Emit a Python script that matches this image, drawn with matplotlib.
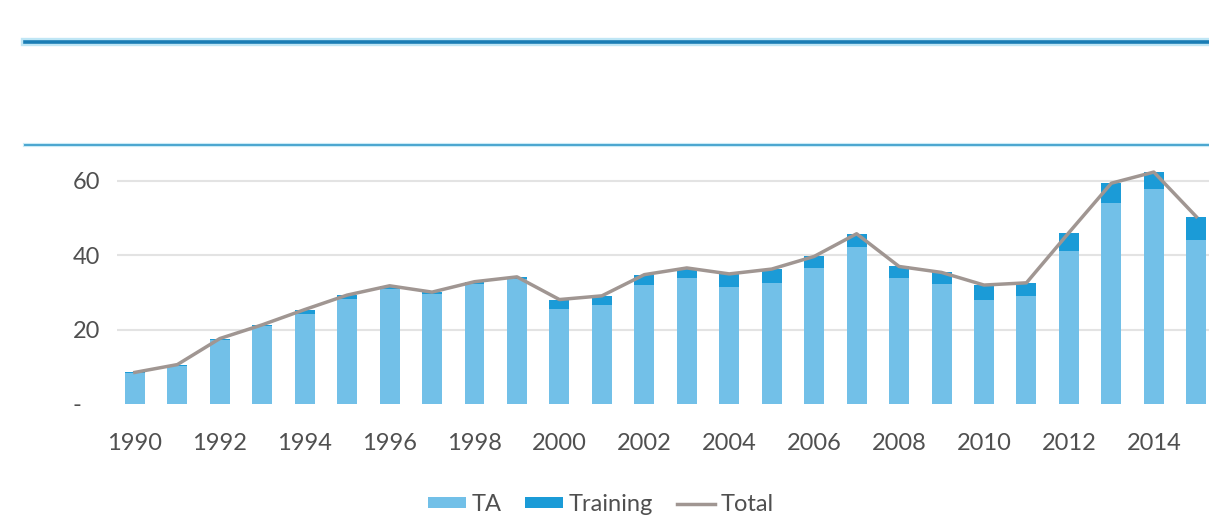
import numpy as np
import matplotlib
matplotlib.use("Agg")
from matplotlib import pyplot as plt
from matplotlib.lines import Line2D

years = list(range(1990, 2016))
ta = [8.3, 10.3, 17.3, 20.9, 24.2, 28.3, 31.0, 29.6, 32.4, 33.6,
      25.5, 26.5, 32.1, 33.9, 31.5, 32.6, 36.6, 42.3, 33.9, 32.3,
      28.0, 29.0, 41.2, 54.0, 57.9, 44.2]
training = [0.2, 0.3, 0.3, 0.4, 1.2, 1.0, 0.8, 0.5, 0.5, 0.6,
            2.6, 2.6, 2.7, 2.7, 3.5, 3.7, 3.1, 3.5, 3.1, 3.1,
            4.0, 3.6, 4.9, 5.4, 4.5, 6.2]
total = [a + b for a, b in zip(ta, training)]

yticks = [0, 20, 40, 60]
ytick_labels = ["-   ", "20", "40", "60"]
xtick_years = list(range(1990, 2015, 2))

plt.rcParams['font.family'] = ['Lato', 'DejaVu Sans']
text_color = '#505050'

fig = plt.figure(figsize=(12.09, 5.20), dpi=100)
ax = fig.add_axes([0.0968, 0.2231, 0.9032, 0.4646])

# decorative header rules
fig.add_artist(Line2D([0.0207, 1.0], [0.920, 0.920], color='#bfe6f5', lw=6.0))
fig.add_artist(Line2D([0.0207, 1.0], [0.920, 0.920], color='#1a7db5', lw=2.6))
fig.add_artist(Line2D([0.0207, 1.0], [0.721, 0.721], color='#c9ebf7', lw=3.0))
fig.add_artist(Line2D([0.0207, 1.0], [0.721, 0.721], color='#4aa6cf', lw=1.4))

b1 = ax.bar(years, ta, width=0.47, color='#72c0e8', label='TA', zorder=2)
b2 = ax.bar(years, training, width=0.47, bottom=ta, color='#1b9bd7',
            label='Training', zorder=2)
l1, = ax.plot(years, total, color='#a09692', lw=2.5, label='Total',
              solid_joinstyle='round', zorder=3)

ax.set_xlim(1989.58, 2015.30)
ax.set_ylim(0, 65)
ax.set_yticks(yticks)
ax.set_yticklabels(ytick_labels)
ax.set_xticks(xtick_years)
ax.set_xticklabels([str(y) for y in xtick_years])
ax.tick_params(axis='both', length=0, labelsize=17, colors=text_color)
ax.tick_params(axis='y', pad=12)
ax.tick_params(axis='x', pad=21)

ax.yaxis.grid(True, color='#e3e3e3', lw=1.5, zorder=0)
ax.set_axisbelow(True)
ax.get_ygridlines()[0].set_visible(False)
for s in ax.spines.values():
    s.set_visible(False)

fig.legend([b1, b2, l1], ['TA', 'Training', 'Total'], loc='center',
           bbox_to_anchor=(0.497, 0.03),
           ncol=3, frameon=False, fontsize=17, labelcolor=text_color,
           handlelength=1.6, handleheight=0.35, handletextpad=0.25,
           columnspacing=1.0, borderpad=0.1)

fig.savefig('out.png', dpi=100, facecolor='white')
